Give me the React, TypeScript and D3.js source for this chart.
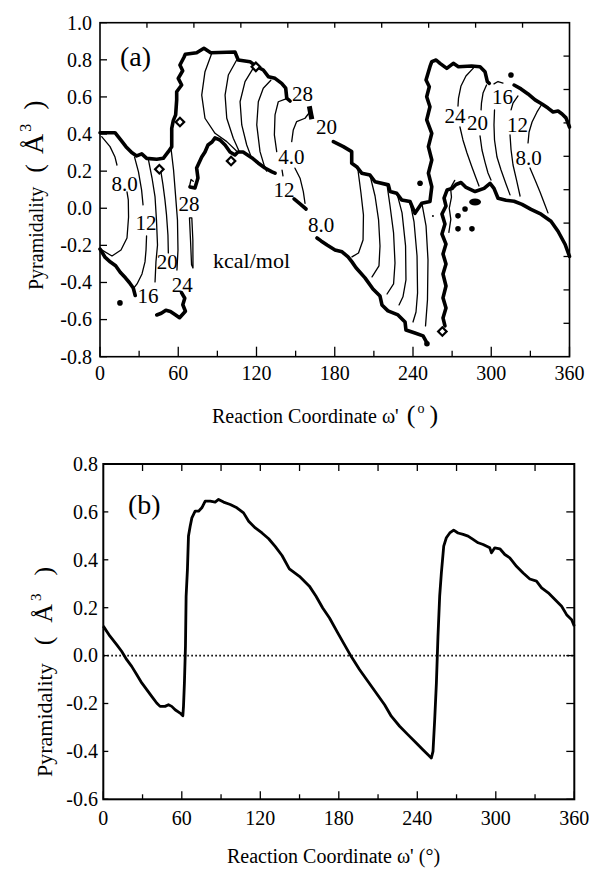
import React from 'react';
import * as d3 from 'd3';

type Pt = [number, number];

// ---------- panel (a): contour map, points are [omega' (deg), pyramidality (A^3)] ----------

// thick boundary lines
const edgeLeftTop: Pt[] = [[0, 0.407], [11.5, 0.407], [15.9, 0.368], [19.9, 0.332], [24.3, 0.3], [28.1, 0.282], [32, 0.293], [35.8, 0.269], [43.5, 0.264], [48.5, 0.269], [52.4, 0.305], [55, 0.332], [55, 0.431], [56.2, 0.472], [58, 0.503], [58.8, 0.584], [58.8, 0.628], [62.6, 0.664], [60, 0.7], [63.4, 0.741], [61.3, 0.772], [64.4, 0.814], [65.4, 0.83], [74.1, 0.838], [79.7, 0.862], [84.9, 0.838], [103.5, 0.842], [106, 0.799], [115, 0.79], [120.2, 0.763], [125.2, 0.745], [129.1, 0.709], [134.2, 0.7], [139.3, 0.673], [142.4, 0.647], [143.2, 0.593], [145.7, 0.578]];
const edgeLeftBottom: Pt[] = [[0, -0.22], [4, -0.265], [8, -0.29], [12, -0.31], [15.5, -0.345], [19.5, -0.375], [22.5, -0.4], [25.5, -0.43], [27, -0.47]];
const edgeLeftBlob: Pt[] = [[43.5, -0.575], [47, -0.566], [50.5, -0.55], [54, -0.556], [58, -0.575], [61, -0.59], [65.5, -0.555], [63.5, -0.52], [65, -0.485], [62.5, -0.455]];
const edgeRidgeBottom: Pt[] = [[69, 0.115], [72.8, 0.109], [75.1, 0.163], [74.1, 0.217], [78, 0.276], [80.5, 0.303], [82.8, 0.341], [85.9, 0.357], [88.2, 0.379], [92, 0.368], [95.9, 0.341], [99.7, 0.303], [103.5, 0.287], [105.8, 0.303], [109.7, 0.303], [116.6, 0.271], [121.2, 0.244], [126.5, 0.217], [131.9, 0.196], [134.2, 0.189]];
const edgeRidgeTail: Pt[] = [[148.8, 0.05], [153.4, 0.023], [158, -0.004]];
const edgeBar: Pt[] = [[160.5, 0.55], [162.4, 0.48]];
const edgeValleyTop: Pt[] = [[178.9, 0.359], [186.6, 0.332], [193, 0.305], [193, 0.242], [196.8, 0.224], [200.7, 0.189], [207, 0.179], [210.9, 0.143], [221.1, 0.126], [222.4, 0.09], [227.5, 0.081], [231.3, 0.045], [237.7, 0.036], [241.5, -0.027], [244.1, 0], [246.7, 0.027], [253, 0.036], [254.4, 0.116], [251.8, 0.189], [254.4, 0.26], [251.8, 0.332], [254.4, 0.404], [250.5, 0.476], [253, 0.547], [250.5, 0.601], [252.5, 0.655], [250, 0.691], [253, 0.763], [254.4, 0.79], [257.7, 0.799], [260.7, 0.781], [265.9, 0.754], [270.9, 0.781], [274.8, 0.763], [285, 0.767], [291.4, 0.763], [295.2, 0.736], [297, 0.682], [298.5, 0.673]];
const edgeValleyBottom: Pt[] = [[166.4, -0.16], [169.5, -0.176], [174.1, -0.198], [180.2, -0.225], [185.6, -0.235], [190.2, -0.262], [193.2, -0.289], [196.3, -0.321], [203.2, -0.375], [209.3, -0.435], [214.7, -0.473], [216.2, -0.521], [220.8, -0.553], [228.5, -0.575], [233.9, -0.613], [234.6, -0.656], [241.5, -0.672], [247.7, -0.688], [250.7, -0.726]];
const edgeRightTop: Pt[] = [[317.5, 0.664], [322.8, 0.643], [328.2, 0.616], [333.6, 0.584], [338.9, 0.562], [343.5, 0.54], [347.4, 0.519], [351.2, 0.524], [354.3, 0.508], [357.3, 0.487], [360, 0.438]];
const edgeRightBottom: Pt[] = [[269.9, 0.107], [273, 0.128], [276.8, 0.139], [280.7, 0.112], [287.6, 0.09], [294.5, 0.107], [299.1, 0.134], [302.1, 0.107], [305.2, 0.054], [311.3, 0.043], [317.5, 0.038], [323.6, 0.021], [330.5, -0.006], [338.2, -0.032], [345.8, -0.07], [351.2, -0.124], [356.6, -0.194], [360, -0.259]];
const edgeVertical: Pt[] = [[269.9, 0.107], [266.1, 0.098], [263.8, 0.055], [265.3, 0.012], [262.2, -0.031], [264.5, -0.085], [262.2, -0.139], [265.3, -0.193], [263, -0.246], [265.3, -0.3], [263, -0.354], [265.3, -0.419], [263, -0.483], [265.3, -0.537], [263, -0.591], [264.5, -0.634]];

// thin contour lines (kcal/mol)
const left8Upper: Pt[] = [[1.3, 0.386], [7.7, 0.332], [11.5, 0.276], [13, 0.233]];
const left8Lower: Pt[] = [[20.7, 0.088], [21.7, 0.045], [21.9, -0.047], [20.7, -0.16], [16.1, -0.225], [9.2, -0.257], [0, -0.219]];
const left12Upper: Pt[] = [[26.5, 0.276], [29.5, 0.196], [31.9, 0.098], [33, 0.018]];
const left12Lower: Pt[] = [[35.7, -0.149], [35.3, -0.224], [34.5, -0.289], [32.2, -0.354], [28.4, -0.408], [25.3, -0.435]];
const left16: Pt[] = [[37.2, 0.26], [39.9, 0.163], [42.2, 0.061], [43.3, -0.063], [44.1, -0.198], [42.9, -0.289], [42.2, -0.397]];
const left20: Pt[] = [[46, 0.228], [48.3, 0.126], [49.8, 0.045], [51, -0.036], [52.1, -0.144], [52.4, -0.241]];
const left24: Pt[] = [[54.4, 0.325], [56.4, 0.206], [57.9, 0.072], [59.4, -0.063], [59.8, -0.225], [59, -0.333]];
const left28: Pt[] = [[68.6, -0.052], [69.4, -0.171], [70.2, -0.305], [71.3, -0.322], [71.2, -0.171], [70.4, -0.052], [68.6, -0.052]];
const flag28: Pt[] = [[68.7, 0.12], [69.8, 0.155], [71.5, 0.145]];
const ridgeArcA: Pt[] = [[85.7, 0.835], [80.5, 0.736], [78, 0.61], [80.5, 0.485], [88.2, 0.404], [97.2, 0.359], [104.5, 0.31]];
const ridgeArcB: Pt[] = [[104.8, 0.799], [98.4, 0.718], [95.9, 0.61], [97.2, 0.485], [102.2, 0.377], [106.5, 0.31]];
const ridgeArcC: Pt[] = [[117.5, 0.755], [111.2, 0.682], [107.4, 0.574], [108.7, 0.449], [112.5, 0.341], [115.5, 0.285]];
const ridgeArcD: Pt[] = [[131, 0.69], [125.2, 0.647], [121.4, 0.574], [120.2, 0.449], [122.7, 0.305], [126.5, 0.216], [127.8, 0.2]];
const ridgeArcE: Pt[] = [[142.6, 0.59], [136.7, 0.574], [134.2, 0.503], [133.7, 0.395], [135.5, 0.305]];
const ridge4Upper: Pt[] = [[161, 0.52], [157.2, 0.485], [150.8, 0.467], [148.2, 0.422], [147, 0.359]];
const ridge4Lower: Pt[] = [[149.5, 0.216], [153.4, 0.162], [155.9, 0.09], [157.2, 0.027]];
const ridge12Tick: Pt[] = [[139.6, 0.206], [140.3, 0.174]];
const valley1: Pt[] = [[197.8, 0.206], [200.1, 0.082], [202, -0.036], [201.7, -0.171], [198.2, -0.241], [193.2, -0.262]];
const valley2: Pt[] = [[207, 0.179], [210.9, 0.066], [213.6, -0.063], [214.7, -0.203], [213.9, -0.311], [208.6, -0.37]];
const valley3: Pt[] = [[220.1, 0.126], [222.4, 0.012], [225.1, -0.133], [226.2, -0.295], [225.1, -0.408], [220.1, -0.462]];
const valley4: Pt[] = [[227.7, 0.08], [231.6, -0.025], [234.3, -0.203], [234.6, -0.386], [232.3, -0.477], [229.3, -0.521]];
const valley5: Pt[] = [[237.7, 0.034], [240.8, -0.074], [243.1, -0.257], [243.5, -0.456], [242.3, -0.559], [240, -0.613]];
const valley6: Pt[] = [[246.9, 0.023], [250, -0.095], [251.5, -0.278], [251.1, -0.494], [249.6, -0.634]];
const besideVertical: Pt[] = [[272, 0.15], [268.8, 0.11], [269.5, 0.06], [267.8, 0], [269, -0.06], [267.5, -0.13]];
const right24Upper: Pt[] = [[286.8, 0.759], [280.6, 0.713], [276.8, 0.659], [274.9, 0.594], [274.5, 0.551]];
const right24Lower: Pt[] = [[276, 0.438], [278.3, 0.368], [281.4, 0.298], [284.9, 0.228], [288.3, 0.163], [290.6, 0.12]];
const right20Upper: Pt[] = [[296.4, 0.664], [293.7, 0.621], [292.5, 0.567], [292.2, 0.53]];
const right20Lower: Pt[] = [[291.4, 0.39], [292.9, 0.314], [295.2, 0.249], [297.5, 0.19], [299.8, 0.152]];
const right16Cap: Pt[] = [[302.1, 0.67], [305.2, 0.683], [309, 0.675]];
const right16Lower: Pt[] = [[302.5, 0.53], [302.1, 0.449], [302.5, 0.368], [304.4, 0.276], [307.5, 0.206], [311.3, 0.131], [314.4, 0.072]];
const right12Upper: Pt[] = [[320.5, 0.605], [316.7, 0.567], [315.2, 0.53]];
const right12Lower: Pt[] = [[314.4, 0.395], [315.2, 0.314], [316.7, 0.233], [319.4, 0.152], [322.1, 0.066]];
const right8Upper: Pt[] = [[338.9, 0.562], [335.1, 0.519], [331.3, 0.465], [329, 0.411], [328.2, 0.352]];
const right8Lower: Pt[] = [[329.7, 0.217], [333.6, 0.152], [337.4, 0.088], [341.2, 0.018], [343.5, -0.025]];

// contour labels: [text, omega', pyramidality]
const contourLabels: [string, number, number][] = [
  ['8.0', 18.8, 0.135], ['12', 35.3, -0.08], ['16', 36.8, -0.473], ['20', 51.5, -0.29],
  ['24', 63, -0.41], ['28', 68.2, 0.023], ['28', 155.3, 0.619], ['20', 173.7, 0.44],
  ['4.0', 146.8, 0.279], ['12', 141.1, 0.099], ['8.0', 169.5, -0.09], ['24', 272.2, 0.5],
  ['20', 289.5, 0.462], ['16', 308.6, 0.602], ['12', 320.1, 0.452], ['8.0', 328.6, 0.274],
];
const unitLabel: [string, number, number] = ['kcal/mol', 86.7, -0.279];

const saddleMarks: Pt[] = [[45.5, 0.21], [61.3, 0.465], [119.5, 0.762], [100.5, 0.255], [262.5, -0.664]];
const spotMarks: Pt[] = [[15.3, -0.51], [250.7, -0.73], [245.4, 0.135], [315.1, 0.718], [279.9, -0.004], [274.5, -0.041], [274.5, -0.111], [285.2, -0.111]];
const tinySpot: Pt = [255.3, -0.042];
const blobMark: Pt = [287.6, 0.034];

// ---------- panel (b): pyramidality along the reaction path ----------
const omegaB = [0, 5.1, 10.2, 14, 17.9, 21.7, 25.5, 29.4, 33.2, 37, 40.8, 43.4, 47.2, 49.8, 52.3, 54.9, 58.7, 60.8, 61.3, 62, 62.8, 63.3, 64.3, 65.1, 66.4, 67.7, 70.2, 72.8, 75.3, 77.9, 81.7, 85.5, 88.1, 91.9, 97, 102.1, 107.2, 111.1, 116.2, 121.3, 126.4, 131.5, 136.6, 142.2, 149.9, 157.5, 162.6, 167.7, 172.9, 179.2, 184.3, 189.4, 195.8, 202.2, 208.6, 215, 220.1, 226.5, 232.8, 239.2, 244.3, 248.2, 250.7, 252, 253.3, 254.6, 255.8, 257.1, 258.4, 260.2, 262.2, 264.8, 267.8, 271.1, 275, 278.8, 282.6, 286.5, 290.3, 295.4, 296.7, 299.2, 303.1, 306.9, 310.7, 315.8, 320.9, 326, 331.1, 335, 340.1, 345.2, 350.3, 354.1, 358, 360];
const pyramidalityB = [0.123, 0.081, 0.046, 0.018, -0.017, -0.045, -0.079, -0.114, -0.142, -0.17, -0.198, -0.212, -0.212, -0.205, -0.212, -0.226, -0.24, -0.251, -0.212, -0.114, 0.039, 0.248, 0.359, 0.499, 0.54, 0.575, 0.603, 0.603, 0.617, 0.645, 0.645, 0.641, 0.652, 0.641, 0.631, 0.617, 0.596, 0.561, 0.533, 0.512, 0.488, 0.455, 0.418, 0.362, 0.331, 0.29, 0.248, 0.199, 0.157, 0.095, 0.046, -0.003, -0.058, -0.107, -0.156, -0.205, -0.253, -0.295, -0.33, -0.365, -0.393, -0.414, -0.428, -0.4, -0.267, -0.114, 0.081, 0.248, 0.345, 0.457, 0.492, 0.512, 0.524, 0.512, 0.506, 0.499, 0.485, 0.471, 0.464, 0.45, 0.429, 0.45, 0.446, 0.422, 0.408, 0.373, 0.345, 0.32, 0.311, 0.283, 0.262, 0.234, 0.206, 0.171, 0.15, 0.123];

// ---------- ticks ----------
const xMajorTicks = [0, 60, 120, 180, 240, 300, 360];
const xMinorTicks = [30, 90, 150, 210, 270, 330];
const topTicksA = [36, 72, 108, 144, 180, 216, 252, 288, 324];
const yTicksA = [-0.8, -0.6, -0.4, -0.2, 0, 0.2, 0.4, 0.6, 0.8, 1.0];
const yLabelsA = ['-0.8', '-0.6', '-0.4', '-0.2', '0.0', '0.2', '0.4', '0.6', '0.8', '1.0'];
const rightTicksA = [-0.62, -0.44, -0.26, -0.08, 0.1, 0.28, 0.46, 0.64, 0.82];
const topTicksB = [30, 60, 90, 120, 150, 180, 210, 240, 270, 300, 330];
const yTicksB = [-0.6, -0.4, -0.2, 0, 0.2, 0.4, 0.6, 0.8];
const yLabelsB = ['-0.6', '-0.4', '-0.2', '0.0', '0.2', '0.4', '0.6', '0.8'];

// serif face, set on every text element itself
const FONT = "'Liberation Serif'";
const ts = (size: number) => ({ fontFamily: FONT, fontSize: size + 'px' });

// panel (a) scales
const xA = d3.scaleLinear().domain([0, 360]).range([100, 569.5]);
const yA = d3.scaleLinear().domain([-0.8, 1.0]).range([356.7, 22.7]);
const lineA = d3.line<Pt>().x((d) => xA(d[0])).y((d) => yA(d[1]));

// panel (b) scales
const xB = d3.scaleLinear().domain([0, 360]).range([103.3, 574.3]);
const yB = d3.scaleLinear().domain([-0.6, 0.8]).range([799.3, 464]);
const lineB = d3.line<number>().x((d, i) => xB(omegaB[i])).y((d) => yB(d));

const thickEdges = [edgeLeftTop, edgeLeftBottom, edgeLeftBlob, edgeRidgeBottom, edgeRidgeTail, edgeValleyTop,
  edgeValleyBottom, edgeRightTop, edgeRightBottom, edgeVertical];
const thinContours = [left8Upper, left8Lower, left12Upper, left12Lower, left16, left20, left24, left28, flag28,
  ridgeArcA, ridgeArcB, ridgeArcC, ridgeArcD, ridgeArcE, ridge4Upper, ridge4Lower, ridge12Tick,
  valley1, valley2, valley3, valley4, valley5, valley6, besideVertical,
  right24Upper, right24Lower, right20Upper, right20Lower, right16Cap, right16Lower,
  right12Upper, right12Lower, right8Upper, right8Lower];

const diamondPath = d3.symbol().type(d3.symbolSquare).size(36)() || '';

const tick = (x1: number, y1: number, x2: number, y2: number, key: string) => (
  <line key={key} x1={x1} y1={y1} x2={x2} y2={y2} stroke="#000" strokeWidth={1.3} />
);

const PanelA = () => (
  <g>
    {xMajorTicks.map((d) => tick(xA(d), 356.7, xA(d), 346.7, 'am' + d))}
    {xMinorTicks.map((d) => tick(xA(d), 356.7, xA(d), 350.7, 'an' + d))}
    {topTicksA.map((d) => tick(xA(d), 22.7, xA(d), 27.7, 'at' + d))}
    {yTicksA.map((d) => tick(100, yA(d), 107, yA(d), 'al' + d))}
    {rightTicksA.map((d) => tick(569.5, yA(d), 563.5, yA(d), 'ar' + d))}
    {xMajorTicks.map((d) => (
      <text key={'axl' + d} x={xA(d)} y={380} textAnchor="middle" style={ts(20)}>{d}</text>
    ))}
    {yTicksA.map((d, i) => (
      <text key={'ayl' + d} x={92} y={yA(d)} dy="0.34em" textAnchor="end" style={ts(20)}>{yLabelsA[i]}</text>
    ))}

    {thinContours.map((pts, i) => (
      <path key={'c' + i} d={lineA(pts) || ''} fill="none" stroke="#000" strokeWidth={1.3}
        strokeLinejoin="round" strokeLinecap="round" />
    ))}
    {thickEdges.map((pts, i) => (
      <path key={'e' + i} d={lineA(pts) || ''} fill="none" stroke="#000" strokeWidth={3.6}
        strokeLinejoin="round" strokeLinecap="round" />
    ))}
    <path d={lineA(edgeBar) || ''} fill="none" stroke="#000" strokeWidth={5} />

    {saddleMarks.map((d, i) => (
      <path key={'s' + i} d={diamondPath} transform={`translate(${xA(d[0])},${yA(d[1])}) rotate(45)`}
        fill="#fff" stroke="#000" strokeWidth={2.2} />
    ))}
    {spotMarks.map((d, i) => (
      <circle key={'p' + i} cx={xA(d[0])} cy={yA(d[1])} r={2.8} fill="#000" />
    ))}
    <circle cx={xA(tinySpot[0])} cy={yA(tinySpot[1])} r={1} fill="#000" />
    <ellipse cx={xA(blobMark[0])} cy={yA(blobMark[1])} rx={6} ry={3.5} fill="#000" />

    {contourLabels.map((d, i) => (
      <text key={'l' + i} x={xA(d[1])} y={yA(d[2])} dy="0.35em" textAnchor="middle" style={ts(21)}>{d[0]}</text>
    ))}
    <text x={xA(unitLabel[1])} y={yA(unitLabel[2])} dy="0.35em" style={ts(22)}>{unitLabel[0]}</text>

    <rect x={100} y={22.7} width={469.5} height={334} fill="none" stroke="#000" strokeWidth={1.6} />
    <text x={120} y={66} style={ts(28)}>(a)</text>

    <text transform="translate(43,290) rotate(-90)" style={ts(20)}>
      <tspan style={ts(20)}>Pyramidality</tspan>
      <tspan dx={14} style={ts(26)}>(</tspan>
      <tspan dx={10} style={ts(28)}>Å</tspan>
      <tspan dx={2} dy={-12} style={ts(16)}>3</tspan>
      <tspan dx={14} dy={12} style={ts(28)}>)</tspan>
    </text>
    <text x={212} y={423} style={ts(20)}>
      <tspan style={ts(20)}>Reaction Coordinate ω'</tspan>
      <tspan dx={8} style={ts(26)}>(</tspan>
      <tspan dx={2} dy={-10} style={ts(14)}>o</tspan>
      <tspan dx={5} dy={10} style={ts(26)}>)</tspan>
    </text>
  </g>
);

const PanelB = () => (
  <g>
    {xMajorTicks.map((d) => tick(xB(d), 799.3, xB(d), 791.3, 'bm' + d))}
    {xMinorTicks.map((d) => tick(xB(d), 799.3, xB(d), 794.3, 'bn' + d))}
    {topTicksB.map((d) => tick(xB(d), 464, xB(d), 471, 'bt' + d))}
    {yTicksB.map((d) => tick(103.3, yB(d), 108.3, yB(d), 'bl' + d))}
    {yTicksB.map((d) => tick(574.3, yB(d), 566.3, yB(d), 'br' + d))}
    {xMajorTicks.map((d) => (
      <text key={'bxl' + d} x={xB(d)} y={825} textAnchor="middle" style={ts(20)}>{d}</text>
    ))}
    {yTicksB.map((d, i) => (
      <text key={'byl' + d} x={98} y={yB(d)} dy="0.34em" textAnchor="end" style={ts(20)}>{yLabelsB[i]}</text>
    ))}

    <line x1={xB(0)} x2={xB(360)} y1={yB(0)} y2={yB(0)} stroke="#000" strokeWidth={1.6} strokeDasharray="1.6,2.4" />
    <path d={lineB(pyramidalityB) || ''} fill="none" stroke="#000" strokeWidth={2.8} strokeLinejoin="round" />

    <rect x={103.3} y={464} width={471} height={335.3} fill="none" stroke="#000" strokeWidth={2} />
    <text x={128} y={514} style={ts(28)}>(b)</text>

    <text transform="translate(52,777) rotate(-90)" style={ts(22)}>
      <tspan style={ts(22)}>Pyramidality</tspan>
      <tspan dx={18} style={ts(26)}>(</tspan>
      <tspan dx={14} style={ts(26)}>Å</tspan>
      <tspan dx={3} dy={-11} style={ts(15)}>3</tspan>
      <tspan dx={18} dy={11} style={ts(26)}>)</tspan>
    </text>
    <text x={227} y={863} style={ts(20)}>Reaction Coordinate ω' (°)</text>
  </g>
);

export default function App() {
  return (
    <svg width={589} height={869} style={{ position: 'absolute', left: 0, top: 0, background: '#fff' }}>
      <PanelA />
      <PanelB />
    </svg>
  );
}
